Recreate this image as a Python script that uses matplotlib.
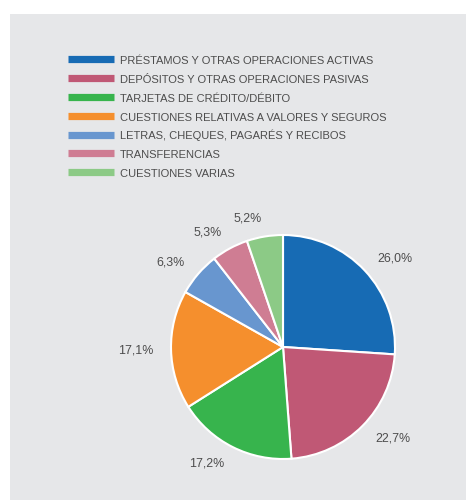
import matplotlib.pyplot as plt
from matplotlib.lines import Line2D
from matplotlib.patches import Rectangle

categories = [
    "PRÉSTAMOS Y OTRAS OPERACIONES ACTIVAS",
    "DEPÓSITOS Y OTRAS OPERACIONES PASIVAS",
    "TARJETAS DE CRÉDITO/DÉBITO",
    "CUESTIONES RELATIVAS A VALORES Y SEGUROS",
    "LETRAS, CHEQUES, PAGARÉS Y RECIBOS",
    "TRANSFERENCIAS",
    "CUESTIONES VARIAS",
]
values = [26.0, 22.7, 17.2, 17.1, 6.3, 5.3, 5.2]
colors = ["#176bb4", "#c05875", "#37b44d", "#f58f2d", "#6896cf", "#cf7d93", "#8cca86"]

TEXT = "#4d4d4d"
plt.rcParams["font.family"] = ["Liberation Sans", "DejaVu Sans"]

W, H = 466, 500
fig = plt.figure(figsize=(W / 100, H / 100), dpi=100, facecolor="white")

# grey panel behind everything
fig.patches.append(Rectangle((10 / W, 0), 456 / W, 486 / H, transform=fig.transFigure,
                             facecolor="#e6e7e9", edgecolor="none", zorder=-5))

# pie: centre (283, 347) px, radius 112 px
R = 112
lim = 1.3
side = 2 * lim * R
cx, cy = 283, H - 347
ax = fig.add_axes([(cx - side / 2) / W, (cy - side / 2) / H, side / W, side / H])

labels = [f"{v:.1f}%".replace(".", ",") for v in values]
wedges, texts = ax.pie(values, colors=colors, startangle=90, counterclock=False,
                       labels=labels, labeldistance=1.16,
                       wedgeprops=dict(edgecolor="white", linewidth=1.5),
                       textprops=dict(color=TEXT, fontsize=8.9))
# pie() resets the limits, so set them afterwards
ax.set_xlim(-lim, lim)
ax.set_ylim(-lim, lim)
ax.set_aspect("equal")
ax.axis("off")

# thick line handles so every legend row has the same height
handles = [Line2D([0], [0], color=c, lw=5.2, solid_capstyle="butt") for c in colors]
fig.legend(handles, categories, loc="upper left", bbox_to_anchor=(68 / W, 1 - 54.5 / H),
           frameon=False, fontsize=8, labelcolor=TEXT, borderpad=0, borderaxespad=0,
           handlelength=4.15, handleheight=1.3, handletextpad=0.55, labelspacing=0.6)

fig.savefig("out.png", dpi=100)
